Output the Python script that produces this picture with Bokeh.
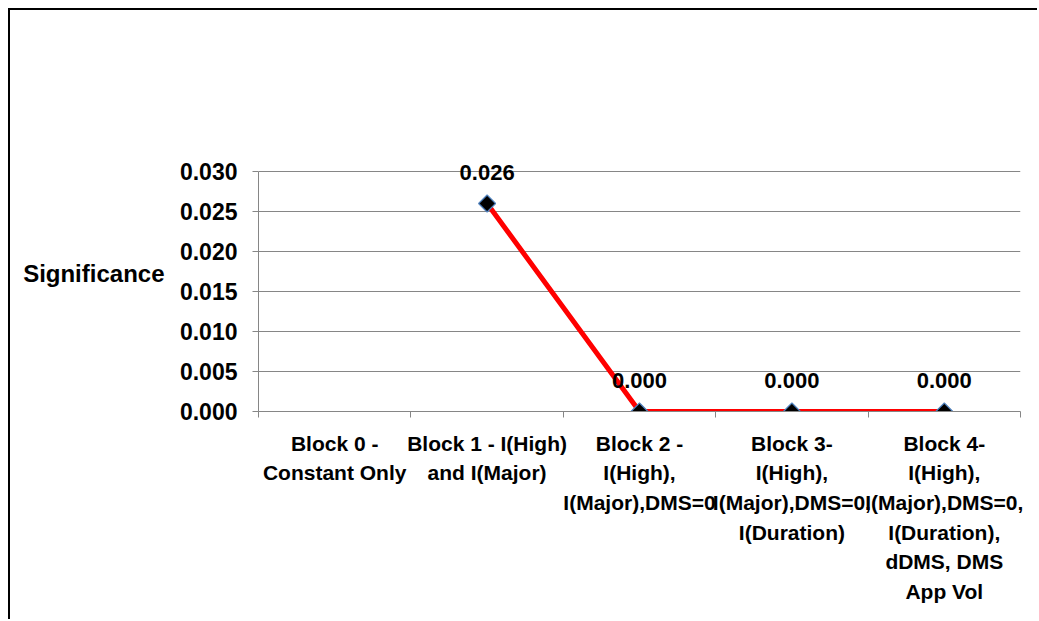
import math
from bokeh.plotting import figure
from bokeh.models import Range1d, FixedTicker, NumeralTickFormatter, Label, LinearAxis
from bokeh.embed import file_html
from bokeh.resources import INLINE

categories = [
    ["Block 0 -", "Constant Only"],
    ["Block 1 - I(High)", "and I(Major)"],
    ["Block 2 -", "I(High),", "I(Major),DMS=0"],
    ["Block 3-", "I(High),", "I(Major),DMS=0,", "I(Duration)"],
    ["Block 4-", "I(High),", "I(Major),DMS=0,", "I(Duration),", "dDMS, DMS", "App Vol"],
]
significance = [float("nan"), 0.026, 0.000, 0.000, 0.000]
value_labels = ["", "0.026", "0.000", "0.000", "0.000"]
y_ticks = [0.000, 0.005, 0.010, 0.015, 0.020, 0.025, 0.030]
y_title = "Significance"
y_title_at = 0.01725

FONT = "Liberation Sans"
GREY = "#868686"

n = len(categories)
x_pos = [i + 0.5 for i in range(n)]
bounds_x = list(range(n + 1))

p = figure(width=1029, height=611, output_backend="svg", toolbar_location=None,
           x_range=Range1d(0, n), y_range=Range1d(0, 0.035),
           min_border_left=248, min_border_right=19, min_border_top=121, min_border_bottom=210)
p.styles = {"margin-left": "8px", "margin-top": "8px",
            "border-top": "2px solid #000000", "border-left": "2px solid #000000"}
p.outline_line_color = None
p.background_fill_color = "white"
p.border_fill_color = "white"

p.xgrid.visible = False
p.ygrid.grid_line_color = GREY
p.ygrid.grid_line_width = 1
p.ygrid.ticker = FixedTicker(ticks=y_ticks)

ya = p.yaxis[0]
ya.ticker = FixedTicker(ticks=y_ticks)
ya.bounds = (y_ticks[0], y_ticks[-1])
ya.formatter = NumeralTickFormatter(format="0.000")
ya.axis_line_color = GREY
ya.major_tick_line_color = GREY
ya.major_tick_out = 6
ya.major_tick_in = 0
ya.minor_tick_line_color = None
ya.major_label_standoff = 15
ya.major_label_text_font = FONT
ya.major_label_text_font_style = "bold"
ya.major_label_text_font_size = "23px"
ya.major_label_text_color = "black"

# y-axis title as a second, line-less axis with one labelled tick
ta = LinearAxis(ticker=FixedTicker(ticks=[y_title_at]),
                major_label_overrides={y_title_at: y_title})
ta.axis_line_color = None
ta.major_tick_line_color = None
ta.minor_tick_line_color = None
ta.major_tick_out = 0
ta.major_tick_in = 0
ta.major_label_standoff = 12
ta.major_label_text_font = FONT
ta.major_label_text_font_style = "bold"
ta.major_label_text_font_size = "24px"
ta.major_label_text_color = "black"
p.add_layout(ta, "left")

xa = p.xaxis[0]
xa.ticker = FixedTicker(ticks=x_pos, minor_ticks=bounds_x)
xa.major_label_overrides = {x: "\n".join(lines) for x, lines in zip(x_pos, categories)}
xa.axis_line_color = GREY
xa.major_tick_line_color = None
xa.major_tick_out = 0
xa.major_tick_in = 0
xa.minor_tick_line_color = GREY
xa.minor_tick_out = 6
xa.minor_tick_in = 0
xa.major_label_standoff = 14
xa.major_label_text_font = FONT
xa.major_label_text_font_style = "bold"
xa.major_label_text_font_size = "21px"
xa.major_label_text_color = "black"
xa.major_label_text_line_height = 1.29

p.line(x_pos, significance, line_color="#FF0000", line_width=5)
p.scatter(x_pos, significance, marker="square", angle=math.pi / 4, size=12,
          fill_color="black", line_color="#4F81BD", line_width=1.2)

for x, v, t in zip(x_pos, significance, value_labels):
    if t:
        p.add_layout(Label(x=x, y=v, text=t, text_align="center", text_baseline="middle",
                           y_offset=31, text_font=FONT, text_font_style="bold",
                           text_font_size="22px", text_color="black"))

open("out.html", "w").write(file_html(p, INLINE))
